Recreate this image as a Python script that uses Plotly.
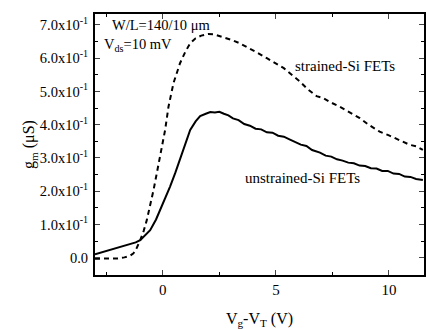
import plotly.graph_objects as go

# unstrained-Si FETs (solid)
x_unstrained = [-3.0, -2.5, -2.0, -1.5, -1.2, -1.0, -0.8, -0.56, -0.3, -0.12, 0.1, 0.32, 0.55, 0.76,
                1.0, 1.21, 1.45, 1.65, 1.9, 2.1, 2.3, 2.5, 2.7, 2.9, 3.1, 3.35, 3.6, 3.85, 4.1,
                4.35, 4.6, 4.85, 5.1, 5.35, 5.6, 5.85, 6.1, 6.35, 6.6, 6.95, 7.2, 7.45, 7.7,
                7.95, 8.2, 8.45, 8.7, 8.95, 9.2, 9.45, 9.7, 9.95, 10.2, 10.45, 10.7, 10.95, 11.2, 11.5]
y_unstrained = [0.010, 0.020, 0.029, 0.038, 0.046, 0.053, 0.066, 0.083, 0.115, 0.143, 0.180, 0.214,
                0.255, 0.294, 0.342, 0.384, 0.410, 0.426, 0.433, 0.438, 0.437, 0.439, 0.433, 0.428,
                0.419, 0.414, 0.402, 0.397, 0.388, 0.386, 0.377, 0.376, 0.367, 0.364, 0.356, 0.349,
                0.340, 0.336, 0.324, 0.316, 0.307, 0.304, 0.296, 0.292, 0.286, 0.284, 0.277, 0.276,
                0.269, 0.268, 0.261, 0.261, 0.253, 0.252, 0.244, 0.243, 0.237, 0.234]

# strained-Si FETs (dashed)
x_strained = [-3.0, -2.5, -2.0, -1.7, -1.45, -1.3, -1.15, -1.0, -0.85, -0.71, -0.55, -0.41, -0.25,
              -0.12, 0.1, 0.25, 0.47, 0.76, 1.0, 1.21, 1.45, 1.7, 2.0, 2.25, 2.6, 3.0, 3.4, 3.85,
              4.2, 4.6, 5.0, 5.35, 5.7, 6.06, 6.4, 6.8, 7.1, 7.4, 7.83, 8.3, 8.71, 9.1, 9.59,
              10.0, 10.48, 10.9, 11.2, 11.5]
y_strained = [-0.003, -0.003, -0.002, 0.001, 0.006, 0.013, 0.030, 0.053, 0.080, 0.113, 0.160, 0.204,
              0.260, 0.304, 0.384, 0.454, 0.525, 0.585, 0.620, 0.645, 0.660, 0.668, 0.673, 0.672,
              0.665, 0.656, 0.645, 0.630, 0.616, 0.600, 0.585, 0.570, 0.550, 0.530, 0.507, 0.486,
              0.480, 0.468, 0.454, 0.437, 0.420, 0.400, 0.379, 0.368, 0.354, 0.340, 0.335, 0.324]

y_tickvals = [0.0, 0.1, 0.2, 0.3, 0.4, 0.5, 0.6, 0.7]
y_ticktext = ["0.0", "1.0x10<sup>-1</sup>", "2.0x10<sup>-1</sup>", "3.0x10<sup>-1</sup>",
              "4.0x10<sup>-1</sup>", "5.0x10<sup>-1</sup>", "6.0x10<sup>-1</sup>", "7.0x10<sup>-1</sup>"]
x_tickvals = [0, 5, 10]
x_ticktext = ["0", "5", "10"]

FONT = "Times New Roman"

fig = go.Figure()
fig.add_trace(go.Scatter(x=x_strained, y=y_strained, mode="lines",
                         line=dict(color="black", width=2, dash="5px,4px"), showlegend=False))
fig.add_trace(go.Scatter(x=x_unstrained, y=y_unstrained, mode="lines",
                         line=dict(color="black", width=2), showlegend=False))

fig.update_layout(
    width=426, height=329, autosize=False,
    margin=dict(l=95, r=2, t=14, b=54, autoexpand=False),
    paper_bgcolor="white", plot_bgcolor="white",
    font=dict(family=FONT, size=14, color="black"),
    xaxis=dict(range=[-3, 11.55], tickvals=x_tickvals, ticktext=x_ticktext, automargin=False,
               ticks="inside", ticklen=5, tickwidth=1.2, showline=True, linewidth=2,
               linecolor="black", mirror="ticks", showgrid=False, zeroline=False,
               tickfont=dict(size=15),
               minor=dict(tickvals=[-2.5, 2.5, 7.5], ticks="inside", ticklen=3, tickcolor="black"),
               title=dict(text="V<sub>g</sub>-V<sub>T</sub> (V)", font=dict(size=16), standoff=16)),
    yaxis=dict(range=[-0.052, 0.733], tickvals=y_tickvals, ticktext=y_ticktext, automargin=False,
               ticks="inside", ticklen=5, tickwidth=1.2, showline=True, linewidth=2,
               linecolor="black", mirror="ticks", showgrid=False, zeroline=False,
               ticklabelstandoff=2, tickfont=dict(size=14.5),
               minor=dict(dtick=0.05, tick0=0, ticks="inside", ticklen=3, tickcolor="black"),
               title=dict(text="g<sub>m</sub> (μS)", font=dict(size=16), standoff=1)),
)

fig.add_annotation(x=0.045, y=0.70, xref="paper", yref="y", text="W/L=140/10 μm",
                   showarrow=False, xanchor="left", yanchor="middle", font=dict(size=14.5))
fig.add_annotation(x=0.022, y=0.64, xref="paper", yref="y", text="V<sub>ds</sub>=10 mV",
                   showarrow=False, xanchor="left", yanchor="middle", font=dict(size=14.5))
fig.add_annotation(x=5.75, y=0.578, text="strained-Si FETs", showarrow=False,
                   xanchor="left", yanchor="middle", font=dict(size=15))
fig.add_annotation(x=3.55, y=0.24, text="unstrained-Si FETs", showarrow=False,
                   xanchor="left", yanchor="middle", font=dict(size=15))

fig.write_html(
    "out.html",
    config={"responsive": False, "displayModeBar": False},
    post_script="document.body.style.margin='0px';document.body.style.overflow='hidden';",
)
